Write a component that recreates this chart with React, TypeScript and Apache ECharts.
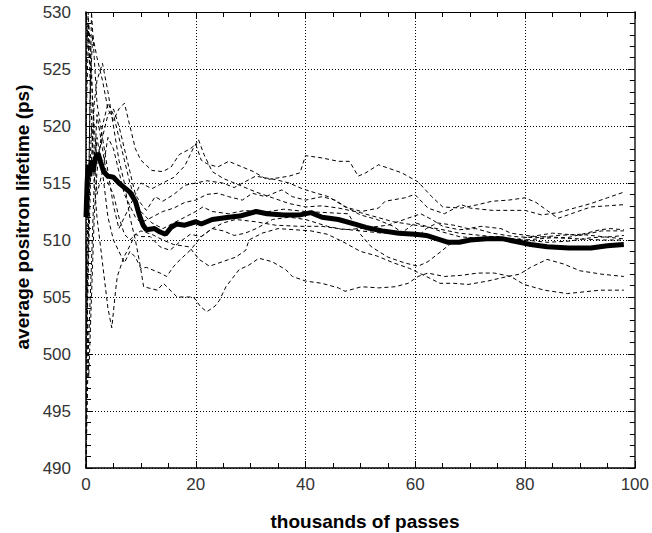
import React, { useEffect, useRef } from "react";
import * as echarts from "echarts";

const xTicks = [0, 20, 40, 60, 80, 100];
const yTicks = [490, 495, 500, 505, 510, 515, 520, 525, 530];

const meanRun: [number, number][] = [
  [0, 512], [0.2, 515], [0.4, 516.6], [0.7, 515.6], [1, 517], [1.3, 516], [1.7, 517.2], [2.2, 517.6], [2.7, 516.8],
  [3.2, 516], [4, 515.6], [5, 515.5], [6, 515], [7, 514.6], [8, 514.2], [9, 513.4], [9.7, 512.2], [10.4, 511.3],
  [11, 510.9], [12.5, 511], [13.5, 510.7], [14.5, 510.5], [15.5, 511.1], [16.5, 511.4], [18, 511.3], [20, 511.6],
  [21, 511.4], [23, 511.8], [26, 512], [28, 512.1], [31, 512.5], [33, 512.3], [36, 512.2], [39, 512.2], [41, 512.4],
  [43, 512], [46, 511.8], [49, 511.4], [51, 511.1], [54, 510.8], [57, 510.6], [60, 510.5], [62, 510.4], [64, 510.1],
  [66, 509.8], [68, 509.8], [70, 510], [73, 510.1], [76, 510.1], [79, 509.8], [81, 509.6], [84, 509.4], [88, 509.3],
  [92, 509.3], [95, 509.5], [98, 509.6],
];

const run1: [number, number][] = [
  [0, 490], [0.3, 505], [0.7, 522], [1.2, 528], [2, 526], [3, 524], [4, 521.5], [5, 520.5], [6, 521.5], [7, 522],
  [8, 520], [9, 518], [10, 517], [12, 516.1], [14, 516], [15.5, 516.4], [17, 517.5], [19, 518], [20, 518.4],
  [21, 517], [22, 516.7], [24, 516.4], [26, 516.9], [28.5, 516.4], [30.5, 516], [33, 515.3], [37, 515.6],
  [39, 515.9], [40, 517.4], [43, 517.2], [46, 516.9], [48, 516.9], [49.6, 515.6], [51, 515.9], [53.3, 516.6],
  [57.5, 515.9], [60.5, 515.1], [63, 513.8], [65, 512.9], [68.4, 512.8], [71.4, 513.1], [74, 513.4], [77, 513.5],
  [80, 513.7], [82, 513.3], [84, 512.6], [86, 511.9], [89, 512.4], [92, 512.9], [95, 513], [98, 513.1],
];

const run2: [number, number][] = [
  [0, 530], [0.4, 527], [1, 524], [1.5, 520], [2, 517], [3, 519], [4, 521], [5, 521.5], [6, 520], [7, 518],
  [8, 516], [9, 514], [10, 513.2], [11, 512.6], [12.6, 513.8], [14, 513.4], [16, 514], [18, 514.8], [20, 515],
  [22, 515.2], [24.9, 515], [27, 514.6], [30.9, 515.6], [34.5, 515.3], [37, 515], [39.4, 514.5], [42, 514.1],
  [44.2, 513.8], [47.2, 512.9], [50.2, 512.5], [53.3, 512.8], [54.5, 513.4], [58.1, 513.7], [59.9, 514],
  [62.3, 512.8], [65.3, 512.3], [68.4, 513.1], [70, 512.8], [74, 512.6], [80, 512.6], [83, 512.2], [86, 512.4],
  [89, 512.8], [92, 513.2], [95, 513.7], [98, 514.2],
];

const run3: [number, number][] = [
  [0, 520], [0.5, 529], [1, 525], [1.5, 518], [2, 514], [3, 516], [4, 519], [5, 518], [6, 516], [7, 514],
  [8, 513], [9, 512], [10, 511.5], [12, 512], [14, 512.5], [16, 512.8], [18, 513.3], [20, 513.5], [22, 514],
  [24, 514.1], [26, 513.8], [28.5, 513.5], [30.3, 514.1], [32.7, 513.8], [35.7, 514.4], [37.6, 513.8], [40, 513.5],
  [43, 513.8], [45.4, 513.5], [47, 513], [50, 512.2], [53, 511.8], [56, 511.2], [58, 510.5], [60.5, 510.3],
  [62, 511], [64, 511.5], [67, 511.3], [69.6, 511], [72, 511.2], [75.6, 511], [77.4, 510.6], [81.7, 510.3],
  [87.7, 510.2], [93.7, 510.9], [95.5, 511], [98, 510.9],
];

const run4: [number, number][] = [
  [0, 500], [0.5, 512], [1, 520], [1.5, 516], [2, 521], [3, 518], [4, 515], [5, 514], [6, 512], [7, 510.5],
  [8, 510], [9, 510.5], [10, 510.3], [11.7, 510.3], [13.5, 509.4], [15.3, 509.1], [17, 509.8], [19, 510.5],
  [21, 510.3], [23, 511], [25, 511.5], [27.3, 511.8], [30.9, 511.6], [34.5, 511.3], [38.8, 511.2], [43, 511.2],
  [46, 511], [50, 510.8], [54, 510.6], [58, 510.8], [60, 511.5], [62, 511.2], [65, 510.7], [68, 510.3], [72, 510.1],
  [76, 510], [80, 510], [85, 510.2], [90, 510.1], [94, 510], [98, 510],
];

const run5: [number, number][] = [
  [0, 510], [0.5, 498], [1, 505], [1.5, 512], [2, 516], [3, 520], [4, 522], [5, 521], [6, 519], [7, 517],
  [8, 515], [9, 513.5], [10, 512.5], [12, 511.5], [14, 511], [16, 511.5], [18, 512], [20, 512.5], [21.3, 512.9],
  [23, 512.5], [26, 512.3], [29, 512.6], [32, 512.4], [36, 512.7], [40, 512.5], [44, 512.4], [47.8, 512.3],
  [50, 510.5], [52, 509.4], [55, 508.5], [58, 508], [60.5, 507.7], [62.3, 508.1], [64.7, 509], [66.5, 509.7],
  [70, 510.2], [75, 510.3], [78, 510], [81, 510.3], [85, 510.6], [90, 510.4], [94, 510.8], [98, 510.8],
];

const run6: [number, number][] = [
  [0, 493], [0.3, 505], [0.8, 515], [1.5, 522], [2, 524], [3, 525.5], [4, 523], [5, 520], [6, 517], [7, 515],
  [8, 512], [9, 510], [9.9, 507.7], [10.5, 505.9], [13, 505.6], [14.1, 506.2], [16.6, 505], [19.6, 505],
  [20.8, 504.2], [22, 503.7], [23.5, 504.2], [24.3, 504.7], [25.5, 505.9], [27.9, 507.4], [29.7, 507.8],
  [31.5, 508.4], [33.9, 508.1], [36.4, 507.4], [37.6, 506.8], [40, 506.4], [43, 506.2], [46, 505.8], [47.2, 505.5],
  [50.2, 505.9], [53.3, 505.8], [56.3, 505.9], [58.7, 506.2], [60.5, 506.8], [62.3, 507.1], [65.3, 506.8],
  [68.4, 506.9], [71.4, 507.1], [74.4, 507.1], [77.4, 506.8], [79.8, 506.1], [83.5, 505.6], [87.7, 505.3],
  [93.7, 505.6], [98, 505.6],
];

const run7: [number, number][] = [
  [0, 525], [0.4, 530], [0.8, 523], [1.5, 515], [2, 512], [3, 508], [4, 504], [4.7, 502.3], [5.4, 505.6],
  [5.7, 506.8], [6.9, 508.5], [8, 509.5], [9, 510.5], [10, 510.8], [12, 510.5], [14, 510], [16, 509.6],
  [18.8, 509.4], [20.6, 508.3], [22.5, 507.7], [24.9, 508.1], [27.3, 508.5], [29.1, 509.1], [29.7, 510],
  [32.1, 510.6], [35, 511], [38, 510.9], [41, 510.8], [44, 510.5], [47, 509.8], [50, 509], [53, 508.6], [56, 508],
  [59, 507.5], [62, 506.8], [64.5, 506.2], [67, 506.2], [69.6, 506.1], [73.2, 506.4], [76.8, 506.8], [79, 507],
  [81, 507.6], [84, 508.3], [87, 507.9], [90, 507.3], [94, 507], [98, 506.8],
];

const run8: [number, number][] = [
  [0, 490], [0.4, 500], [1, 508], [1.5, 515], [2, 519], [3, 516], [4, 512], [5, 510], [6, 509], [7, 508],
  [8, 509], [9, 508.5], [10, 507.5], [11, 507.6], [12.5, 507.3], [13.5, 507.1], [14.7, 506.8], [16, 507.7],
  [17.2, 508.3], [19, 509.1], [21, 510.3], [23, 511], [25, 510.8], [27, 510.4], [29, 510.6], [31, 511], [34, 511.8],
  [37, 512], [40, 511.8], [44, 511.2], [47, 510.9], [50, 511], [55, 511.3], [58, 511.8], [61, 512.3], [63, 511.8],
  [65, 511.2], [68, 510.9], [71, 511], [74, 510.6], [78, 510.3], [82, 510.2], [86, 510.4], [90, 510.5], [94, 510.3],
  [98, 510.1],
];

const run9: [number, number][] = [
  [0, 505], [0.5, 515], [1, 530], [1.5, 526], [2, 522], [3, 519], [4, 516], [5, 513], [6, 511], [7, 512],
  [8, 513], [9, 514], [10, 515], [12, 514.5], [14, 515], [16, 515.5], [18, 516.5], [19.5, 518], [20.5, 518.8],
  [21.5, 517.5], [23, 516], [25, 515.4], [28, 514.8], [31, 514.2], [34, 513.7], [37, 513.2], [40, 512.9],
  [43, 513], [46, 512.8], [50, 512.4], [53, 512], [56, 511.6], [60, 511.3], [64, 511], [68, 510.6], [72, 510.4],
  [76, 510.2], [80, 510], [84, 509.8], [88, 509.9], [92, 510.2], [96, 510.3], [98, 510.4],
];

const runs = [run1, run2, run3, run4, run5, run6, run7, run8, run9];

const labelFont = "'Liberation Sans Narrow', 'Liberation Sans', Arial, sans-serif";
const titleFont = "'Liberation Sans', Arial, sans-serif";

export default function App() {
  const ref = useRef<HTMLDivElement>(null);
  useEffect(() => {
    if (!ref.current) return;
    const chart = echarts.init(ref.current, null, { renderer: "svg" });
    const baseX = {
      type: "value" as const,
      min: xTicks[0],
      max: xTicks[xTicks.length - 1],
      interval: xTicks[1] - xTicks[0],
    };
    const baseY = {
      type: "value" as const,
      min: yTicks[0],
      max: yTicks[yTicks.length - 1],
      interval: yTicks[1] - yTicks[0],
    };
    const tick = { show: true, inside: true, length: 7, lineStyle: { color: "#000", width: 1 } };
    chart.setOption({
      animation: false,
      backgroundColor: "#fff",
      grid: { left: 86, right: 14, top: 12, bottom: 65, containLabel: false },
      xAxis: [
        {
          ...baseX,
          position: "bottom",
          axisLine: { show: true, onZero: false, lineStyle: { color: "#000", width: 1.5 } },
          axisTick: tick,
          minorTick: { show: true, splitNumber: 4, length: 5, lineStyle: { color: "#000", width: 1 } },
          axisLabel: { show: true, margin: 8, color: "#333", fontSize: 17, fontFamily: labelFont },
          splitLine: { show: true, lineStyle: { color: "#000", width: 1, type: [1, 2] } },
        },
        {
          ...baseX,
          position: "top",
          axisLine: { show: true, onZero: false, lineStyle: { color: "#000", width: 1 } },
          axisTick: tick,
          minorTick: { show: true, splitNumber: 4, length: 5, lineStyle: { color: "#000", width: 1 } },
          axisLabel: { show: false },
          splitLine: { show: false },
        },
      ],
      yAxis: [
        {
          ...baseY,
          position: "left",
          axisLine: { show: true, onZero: false, lineStyle: { color: "#000", width: 1.5 } },
          axisTick: tick,
          minorTick: { show: true, splitNumber: 5, length: 5, lineStyle: { color: "#000", width: 1 } },
          axisLabel: { show: true, margin: 15, color: "#333", fontSize: 17, fontFamily: labelFont },
          splitLine: { show: true, lineStyle: { color: "#000", width: 1, type: [1, 2] } },
        },
        {
          ...baseY,
          position: "right",
          axisLine: { show: true, onZero: false, lineStyle: { color: "#555", width: 2 } },
          axisTick: tick,
          minorTick: { show: true, splitNumber: 5, length: 5, lineStyle: { color: "#000", width: 1 } },
          axisLabel: { show: false },
          splitLine: { show: false },
        },
      ],
      graphic: [
        {
          type: "text",
          x: 22,
          y: 217,
          rotation: Math.PI / 2,
          style: {
            text: "average positron lifetime (ps)",
            fontSize: 19,
            fontWeight: "bold",
            fontFamily: titleFont,
            fill: "#000",
            align: "center",
            verticalAlign: "middle",
          },
        },
        {
          type: "text",
          x: 365,
          y: 521,
          style: {
            text: "thousands of passes",
            fontSize: 19,
            fontWeight: "bold",
            fontFamily: titleFont,
            fill: "#000",
            align: "center",
            verticalAlign: "middle",
          },
        },
      ],
      series: [
        ...runs.map((r, i) => ({
          name: "run" + (i + 1),
          type: "line",
          data: r,
          showSymbol: false,
          symbol: "none",
          lineStyle: { color: "#000", width: 1, type: [4, 3] },
          z: 2,
        })),
        {
          name: "mean",
          type: "line",
          data: meanRun,
          showSymbol: false,
          symbol: "none",
          lineStyle: { color: "#000", width: 5 },
          z: 3,
        },
      ],
    });
    return () => chart.dispose();
  }, []);
  return <div ref={ref} style={{ width: 652, height: 533, position: "absolute", left: 0, top: 0 }} />;
}
